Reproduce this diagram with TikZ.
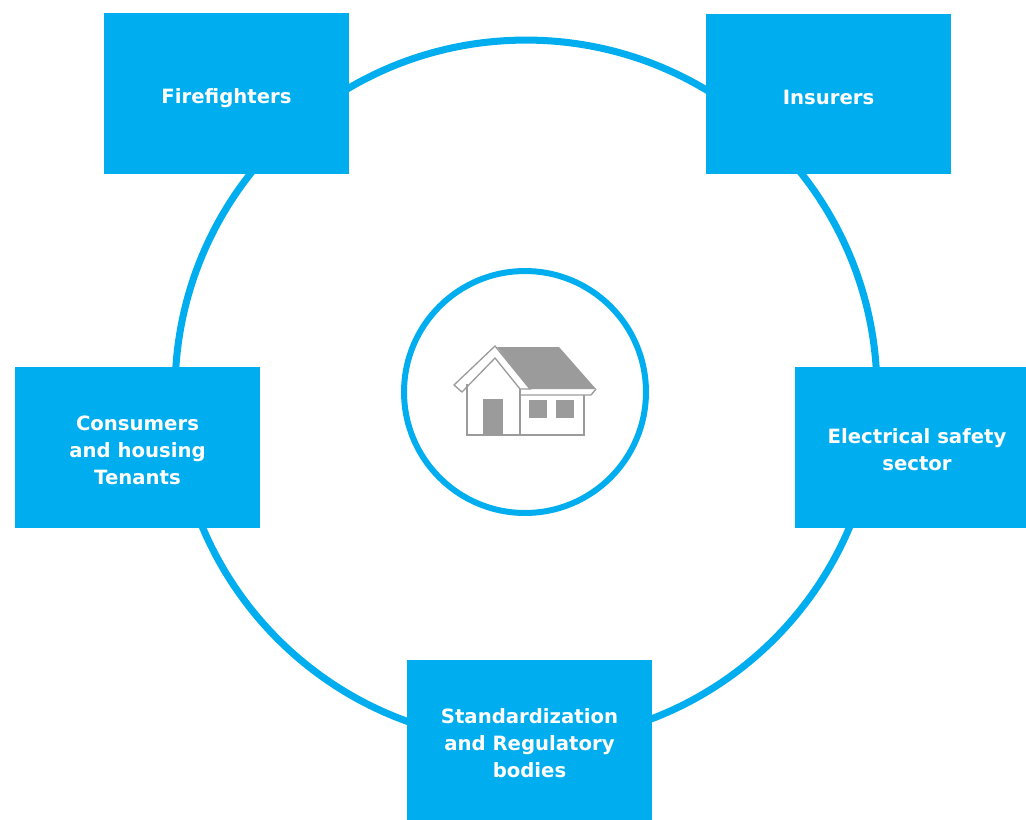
\documentclass[tikz,border=0pt]{standalone}
\usepackage{fontspec}
\setmainfont{DejaVu Sans}
\begin{document}
\begin{tikzpicture}[x=0.02cm,y=-0.02cm,
  partner/.style={rectangle,fill=ringblue,text=white,
    font=\bfseries\fontsize{11.2}{15.3}\selectfont,
    minimum width=4.9cm,minimum height=3.22cm,inner sep=0pt},
  houseline/.style={draw=housegrey,line width=0.75pt}]
\definecolor{ringblue}{HTML}{00ADEF}
\definecolor{housegrey}{HTML}{9B9B9B}
\useasboundingbox (0,0) rectangle (1026,819);
\coordinate (hub) at (526,391);
\draw[ringblue,line width=4pt] (hub) circle[radius=7.02cm];
\node[circle,draw=ringblue,line width=3.4pt,minimum size=4.84cm] (home) at (525,392) {};
% house icon
\fill[housegrey] (497,347) -- (559,347) -- (596,389) -- (529,389) -- cycle;
\filldraw[houseline,fill=white] (454,385) -- (495,346) -- (530,389) -- (520,389) -- (495,358) -- (462,392) -- cycle;
\draw[houseline] (596,389) -- (591,395) -- (520,395);
\draw[houseline] (467,384) -- (467,435) -- (584,435) -- (584,395);
\draw[houseline] (520,389) -- (520,435);
\fill[housegrey] (483,399) rectangle (503,435);
\fill[housegrey] (529,400) rectangle (547,418);
\fill[housegrey] (556,400) rectangle (574,418);
% stakeholders
\foreach \grp/\px/\py/\txt in {fire/226.5/93.5/Firefighters,
    ins/828.5/94/Insurers,
    cons/137.5/447.5/{Consumers\\and housing\\Tenants},
    elec/917/447/{Electrical safety\\sector},
    std/529.5/740/{Standardization\\and Regulatory\\bodies}}
  { \node[partner] (\grp) at (\px,\py)
      {\raisebox{-2.8pt}[\height][\depth]{\begin{tabular}{@{}c@{}}\txt\end{tabular}}}; }
\end{tikzpicture}
\end{document}
